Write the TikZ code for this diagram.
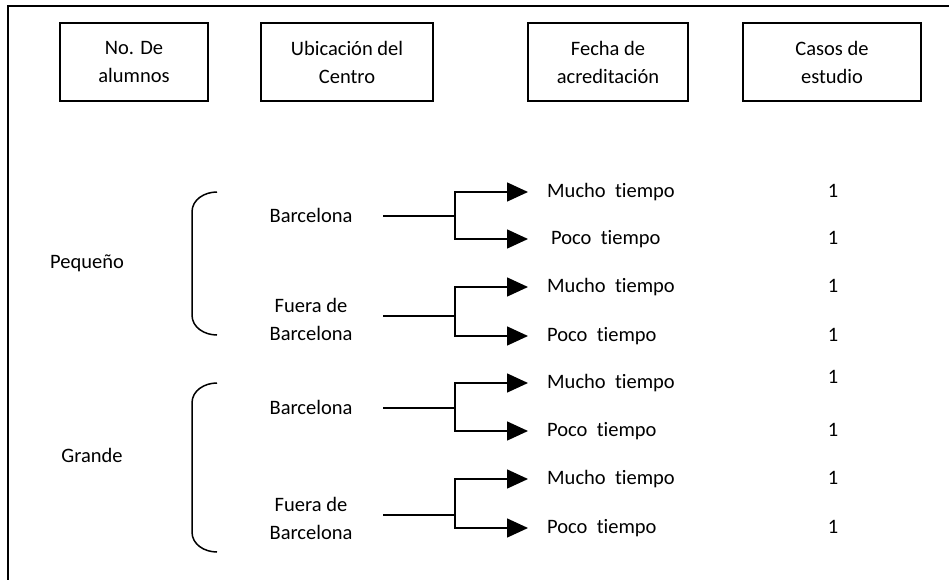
\documentclass[tikz,border=0pt]{standalone}
\usepackage{fontspec}
\setmainfont[Ligatures={NoCommon}]{Carlito}
\usetikzlibrary{arrows.meta}
\begin{document}
\begin{tikzpicture}[x=1pt,y=-1pt,
  every node/.style={font=\fontsize{20.5}{28}\selectfont, inner sep=0pt},
  hbox/.style={draw, line width=1.5pt, minimum width=#1, minimum height=78pt, align=center},
  ln/.style={line width=1.5pt},
  arr/.style={line width=1.5pt, -{Triangle[length=21pt,width=19pt]}},
  lbl/.style={anchor=west},
  brace/.style={line width=1.5pt}]
\useasboundingbox (0,0) rectangle (949,580);
% outer frame (clipped at right and bottom)
\draw[line width=1.6pt] (8,580) -- (8,6) -- (949,6);
% headers
\node[hbox=148pt] (h1) at (134,62) {No. De\\alumnos};
\node[hbox=172pt] (h2) at (347,62) {Ubicación del\\Centro};
\node[hbox=160pt] (h3) at (608,62) {Fecha de\\acreditación};
\node[hbox=178pt] (h4) at (832,62) {Casos de\\estudio};
% size labels
\node (peq) at (87,263) {Pequeño};
\node (gra) at (92,455) {Grande};
% braces
\draw[brace] (217,192) to[out=180,in=90] (192,212) -- (192,315) to[out=-90,in=180] (217,335);
\draw[brace] (217,383) to[out=180,in=90] (192,403) -- (192,532) to[out=-90,in=180] (217,552);
% location labels
\node (b1) at (311,215) {Barcelona};
\node[align=center] (f1) at (311,319) {Fuera de\\Barcelona};
\node (b2) at (311,407) {Barcelona};
\node[align=center] (f2) at (311,518) {Fuera de\\Barcelona};
% start points and junctions
\coordinate (s1) at (383,216); \coordinate (j1) at (455,216);
\coordinate (s2) at (383,316); \coordinate (j2) at (455,316);
\coordinate (s3) at (383,408); \coordinate (j3) at (455,408);
\coordinate (s4) at (383,515); \coordinate (j4) at (455,515);
% arrow tips
\coordinate (t1) at (528,192); \coordinate (t2) at (528,239);
\coordinate (t3) at (528,287); \coordinate (t4) at (528,336);
\coordinate (t5) at (528,383); \coordinate (t6) at (528,431);
\coordinate (t7) at (528,479); \coordinate (t8) at (528,528);
% outcome labels
\node[lbl] (m1) at (547,192) {Mucho\ \ tiempo};
\node[lbl] (p1) at (551,239) {Poco\ \ tiempo};
\node[lbl] (m2) at (547,287) {Mucho\ \ tiempo};
\node[lbl] (p2) at (547,336) {Poco\ \ tiempo};
\node[lbl] (m3) at (547,383) {Mucho\ \ tiempo};
\node[lbl] (p3) at (547,431) {Poco\ \ tiempo};
\node[lbl] (m4) at (547,479) {Mucho\ \ tiempo};
\node[lbl] (p4) at (547,528) {Poco\ \ tiempo};
% counts
\node (c1) at (833,191) {1};
\node (c2) at (833,238) {1};
\node (c3) at (833,286) {1};
\node (c4) at (833,335) {1};
\node (c5) at (833,377) {1};
\node (c6) at (833,430) {1};
\node (c7) at (833,478) {1};
\node (c8) at (833,527) {1};
% connectors
\foreach \i/\a/\b in {1/1/2,2/3/4,3/5/6,4/7/8}{
  \draw[ln] (s\i) -- (j\i);
  \draw[arr] (j\i) |- (t\a);
  \draw[arr] (j\i) |- (t\b);
}
\end{tikzpicture}
\end{document}
